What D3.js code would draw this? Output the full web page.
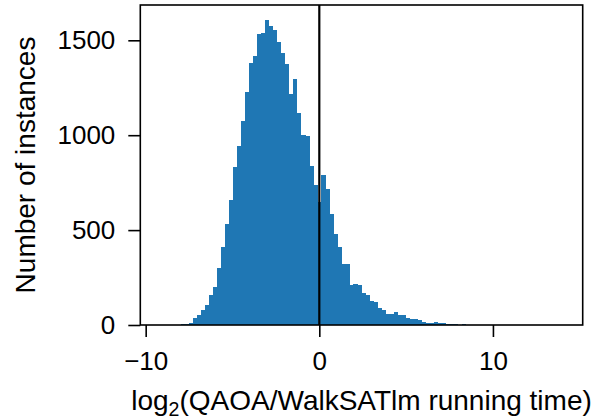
<!DOCTYPE html>
<html>
<head>
<meta charset="utf-8">
<script src="https://cdn.jsdelivr.net/npm/d3@7"></script>
<style>
  body { margin: 0; background: #fff; }
  #chart text { font-family: "Liberation Sans", Arial, sans-serif; fill: #000; }
</style>
</head>
<body>
<div id="chart"></div>
<script>
// histogram: 100 equal bins between binLo and binHi
let binLo = -9.15;
let binHi = 14.01;
let counts = [
  1, 0, 0, 0, 1, 4, 5, 10, 37, 53,
  79, 105, 158, 200, 300, 411, 533, 659, 833, 944,
  1076, 1229, 1382, 1419, 1535, 1540, 1606, 1577, 1556, 1493,
  1435, 1377, 1218, 1297, 1118, 1002, 997, 839, 738, 650,
  791, 717, 585, 480, 411, 322, 322, 211, 216, 211,
  169, 158, 127, 121, 90, 79, 58, 58, 69, 53,
  53, 37, 32, 32, 26, 16, 10, 10, 16, 10,
  10, 5, 5, 5, 1, 5, 1, 1, 1, 0,
  1, 0, 1, 0, 0, 1, 0, 0, 0, 1,
  0, 0, 0, 0, 0, 0, 0, 0, 0, 1
];
let xTicks = [-10, 0, 10];
let yTicks = [0, 500, 1000, 1500];
let xLabel = ['log', '2', '(QAOA/WalkSATlm running time)'];
let yLabel = 'Number of instances';
let refLine = 0;

let width = 600, height = 419;
let plotL = 140.3, plotR = 582.7, plotT = 5, plotB = 325;
let tickFont = 26, labelFont = 28;

let binW = (binHi - binLo) / counts.length;
let bins = counts.map((c, i) => ({x0: binLo + i * binW, x1: binLo + (i + 1) * binW, n: c}));

let svg = d3.select("#chart").append("svg")
  .attr('width', width)
  .attr('height', height);

let x = d3.scaleLinear().domain([-10.31, 15.17]).range([plotL, plotR]);
let y = d3.scaleLinear().domain([0, 1686]).range([plotB, plotT]);

// bars
svg.append("g")
  .selectAll("rect")
  .data(bins.filter(d => d.n > 0))
  .enter()
  .append("rect")
  .attr("x", d => x(d.x0))
  .attr("width", d => x(d.x1) - x(d.x0) + 0.3)
  .attr("y", d => y(d.n))
  .attr("height", d => y(0) - y(d.n))
  .attr("fill", "#1f77b4")
  .attr("shape-rendering", "crispEdges");

// vertical reference line
svg.append("line")
  .attr("x1", x(refLine)).attr("x2", x(refLine))
  .attr("y1", plotT).attr("y2", plotB)
  .attr("stroke", "#000")
  .attr("stroke-width", 2.2);

// axes
const xAxis = svg.append("g")
  .attr("transform", "translate(0," + plotB + ")")
  .call(d3.axisBottom(x).tickValues(xTicks).tickSize(12).tickPadding(15).tickSizeOuter(0)
    .tickFormat(d => d < 0 ? "\u2212" + Math.abs(d) : d));

const yAxis = svg.append("g")
  .attr("transform", "translate(" + plotL + ",0)")
  .call(d3.axisLeft(y).tickValues(yTicks).tickSize(12).tickPadding(13).tickSizeOuter(0)
    .tickFormat(d3.format("d")));

[xAxis, yAxis].forEach(a => {
  a.select(".domain").remove();
  a.selectAll(".tick line").attr("stroke", "#000").attr("stroke-width", 1.6);
  a.selectAll(".tick text").attr("font-size", tickFont).attr("fill", "#000");
});

// frame
svg.append("rect")
  .attr("x", plotL).attr("y", plotT)
  .attr("width", plotR - plotL).attr("height", plotB - plotT)
  .attr("fill", "none")
  .attr("stroke", "#000")
  .attr("stroke-width", 1.6);

// labels
let xl = svg.append("text")
  .attr("x", (plotL + plotR) / 2)
  .attr("y", 410)
  .attr("text-anchor", "middle")
  .attr("font-size", labelFont);
xl.append("tspan").text(xLabel[0]);
xl.append("tspan").attr("dy", 6).attr("font-size", labelFont * 0.7).text(xLabel[1]);
xl.append("tspan").attr("dy", -6).text(xLabel[2]);

svg.append("text")
  .attr("transform", "translate(35," + ((plotT + plotB) / 2) + ") rotate(-90)")
  .attr("text-anchor", "middle")
  .attr("font-size", labelFont)
  .text(yLabel);
</script>
</body>
</html>
